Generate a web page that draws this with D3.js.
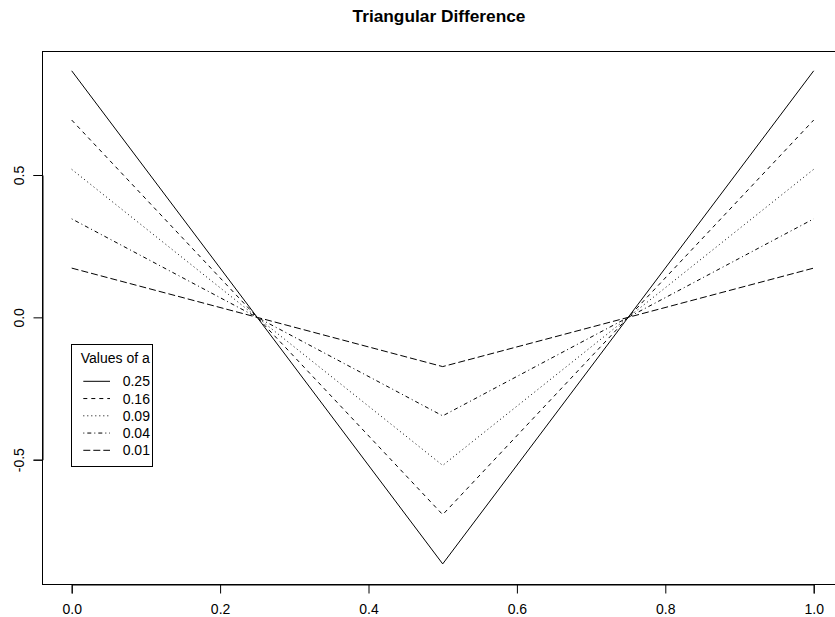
<!DOCTYPE html>
<html>
<head>
    <script src="https://d3js.org/d3.v7.min.js"></script>
    <title>Triangular Difference</title>
</head>
<style>
    body { margin: 0; background-color: white; }
    text { font-family: 'Liberation Sans', Arial, sans-serif; }
</style>
<body>
<div id="chart"></div>
</body>
</html>

<script>
  // DATA
  var xPoints = [0, 0.25, 0.5, 0.75, 1];
  var aLabels = ["0.25", "0.16", "0.09", "0.04", "0.01"];
  var series = [
      [0.866, 0, -0.866, 0, 0.866],
      [0.693, 0, -0.693, 0, 0.693],
      [0.520, 0, -0.520, 0, 0.520],
      [0.346, 0, -0.346, 0, 0.346],
      [0.173, 0, -0.173, 0, 0.173]
  ];
  var xTicks = [0, 0.2, 0.4, 0.6, 0.8, 1.0];
  var yTicks = [-0.5, 0, 0.5];

  // R lty 1..5
  var dashes = ["none", "4,4", "1,3", "1,3,4,3", "7,3"];

  var svg = d3.select("#chart").append("svg")
      .attr("width", 835)
      .attr("height", 617);

  var x = d3.scaleLinear().domain([0, 1]).range([71.7, 813.7]);
  var y = d3.scaleLinear().domain([-0.5, 0.5]).range([459.7, 175]);

  // plot box (R pads ranges by 4%)
  svg.append("rect")
      .attr("x", Math.round(x(-0.04)) + 0.5)
      .attr("y", Math.round(y(0.935)) + 0.5)
      .attr("width", Math.round(x(1.04)) - Math.round(x(-0.04)))
      .attr("height", Math.round(y(-0.935)) - Math.round(y(0.935)))
      .attr("fill", "none")
      .attr("stroke", "#000")
      .attr("stroke-width", 1);

  var lineFunction = d3.line()
      .x(function(d) { return x(d.x); })
      .y(function(d) { return y(d.y); });

  svg.selectAll("path.series")
      .data(series)
      .enter()
      .append("path")
      .attr("class", "series")
      .attr("d", function(s) {
          return lineFunction(s.map(function(v, i) { return {x: xPoints[i], y: v}; }));
      })
      .attr("fill", "none")
      .attr("stroke", "#000")
      .attr("stroke-width", 1)
      .attr("stroke-dasharray", function(d, i) { return dashes[i]; });

  // axes
  var xAxis = svg.append("g")
      .attr("transform", "translate(0," + (Math.round(y(-0.935)) + 0.5) + ")")
      .call(d3.axisBottom(x).tickValues(xTicks).tickSizeOuter(0).tickSize(9).tickPadding(10.5)
          .tickFormat(function(d) { return d.toFixed(1); }));

  var yAxis = svg.append("g")
      .attr("transform", "translate(" + (Math.round(x(-0.04)) + 0.5) + ",0)")
      .call(d3.axisLeft(y).tickValues(yTicks).tickSizeOuter(0).tickSize(9)
          .tickFormat(function(d) { return d.toFixed(1); }));

  yAxis.selectAll(".tick text")
      .attr("transform", "rotate(-90)")
      .attr("x", 0)
      .attr("y", -19)
      .attr("dy", 0)
      .style("text-anchor", "middle");

  svg.selectAll(".tick text")
      .style("font-size", "14px")
      .style("fill", "#000");

  // title
  svg.append("text")
      .attr("x", 439)
      .attr("y", 21.7)
      .attr("text-anchor", "middle")
      .style("font-size", "17.3px")
      .style("font-weight", "bold")
      .text("Triangular Difference");

  // LEGEND
  var legend = svg.append("g");
  legend.append("rect")
      .attr("x", 71.5)
      .attr("y", 344.5)
      .attr("width", 81)
      .attr("height", 122)
      .attr("fill", "white")
      .attr("stroke", "#000");

  legend.append("text")
      .attr("x", 115.3)
      .attr("y", 362.7)
      .attr("text-anchor", "middle")
      .style("font-size", "14px")
      .text("Values of a");

  var rows = legend.selectAll("g.row")
      .data(aLabels)
      .enter()
      .append("g")
      .attr("class", "row")
      .attr("transform", function(d, i) { return "translate(0," + (381.3 + i * 17.25) + ")"; });

  rows.append("line")
      .attr("x1", 83.3)
      .attr("x2", 110)
      .attr("stroke", "#000")
      .attr("stroke-dasharray", function(d, i) { return dashes[i]; });

  rows.append("text")
      .attr("x", 122.7)
      .attr("y", 5)
      .style("font-size", "14px")
      .text(function(d) { return d; });
</script>
